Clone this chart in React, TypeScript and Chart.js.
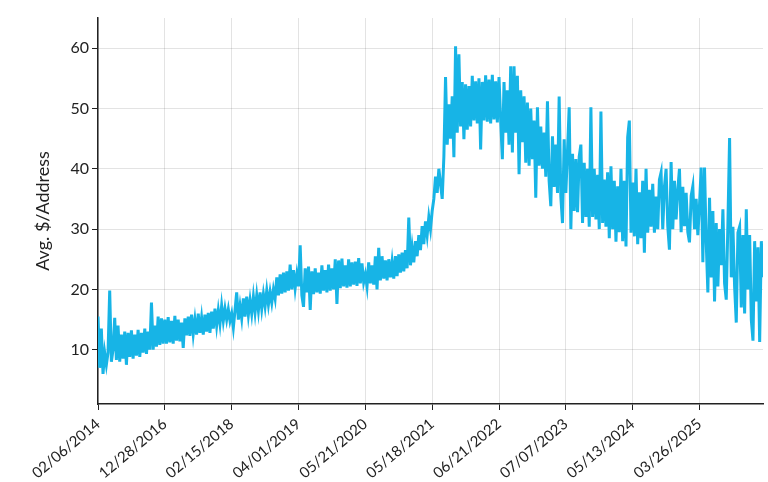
import React, { useEffect, useRef } from "react";
import { Chart, registerables } from "chart.js";
Chart.register(...registerables);

// Tick labels shown on the x axis (one every TICK_STEP observations)
const tickLabels = [
  "02/06/2014", "12/28/2016", "02/15/2018", "04/01/2019", "05/21/2020",
  "05/18/2021", "06/21/2022", "07/07/2023", "05/13/2024", "03/26/2025",
];
const TICK_STEP = 40;

// Avg. $/Address, in chronological blocks
const vals2014_2016 = [
  15.5, 7, 13.5, 6, 9.5, 7.5, 9.5, 19.8, 8, 10, 15.3, 8.3, 14, 8, 12.5, 8.5, 13, 7.5, 12.8, 8.8,
  13.2, 8.5, 12.5, 9, 13.3, 8.8, 12.8, 9.5, 13.5, 9.3, 13, 10, 17.8, 10, 14, 10.5, 15.5, 10.8, 15.2, 11,
];
const vals2016_2018 = [
  15, 11, 15.4, 11.2, 14.8, 11, 15.6, 11.5, 15, 11.4, 14.5, 10.3, 15.2, 12.4, 15.5, 12.3, 15.8, 12.6, 15, 12.5,
  16, 12.8, 15.3, 12.5, 15.8, 13, 16.1, 12.8, 16.3, 13.5, 16.8, 14, 16.5, 14.3, 17.3, 14.8, 16.8, 15, 16.7, 14.8,
];
const vals2018_2019 = [
  16, 13.7, 16.5, 19.5, 15, 17.3, 15.2, 18.5, 15.5, 18.8, 15.8, 18.2, 16, 18.8, 16.2, 19, 16.5, 19.5, 16.8, 19.2,
  17.2, 19.8, 17.5, 19.6, 17.8, 20, 18.5, 22, 19, 22.5, 19.3, 22.8, 19.5, 23, 19.8, 24.1, 20, 23.2, 20.2, 22.5,
];
const vals2019_2020 = [
  20.5, 27.3, 19, 17.1, 23.5, 19.5, 23.8, 16.6, 23, 19.2, 23.5, 19.5, 22.8, 19.3, 24, 19.8, 23.2, 19.5, 24.1, 19.8,
  23.5, 20, 25, 17.6, 24.8, 20.2, 25.1, 20.5, 24, 20.3, 25, 20.5, 24.5, 20.8, 24.6, 20.6, 25.2, 21, 24.3, 21.2,
];
const vals2020_2021 = [
  22.5, 20.5, 24.5, 21, 24, 20.8, 25.5, 20, 26.9, 21.5, 25.5, 21.8, 24.8, 21.5, 25, 22, 24.6, 21.8, 25.5, 22.2,
  25.8, 22.8, 26.1, 23, 26.5, 23.5, 31.9, 24, 27, 24.5, 28, 25.5, 29, 26.5, 30.5, 27.5, 31.3, 29, 32, 30,
];
const vals2021_2022 = [
  33, 35, 38.7, 36, 40, 37.5, 35, 42, 55.2, 44, 50.7, 45, 52, 41.9, 60.3, 46, 59, 47, 54.4, 44.9,
  54, 46.5, 53.7, 47, 55.4, 48, 54.5, 47.5, 55, 43.2, 54.4, 48, 55.5, 47.8, 54.8, 47.5, 55.6, 48.2, 54.5, 47.7,
];
const vals2022_2023 = [
  55.2, 48, 41.6, 54.4, 46, 53, 44, 57, 42.7, 57, 46, 55.4, 39.1, 53, 44.4, 52, 41, 51, 40.5, 50,
  41.6, 48, 35.2, 50.2, 40.5, 47, 40, 46, 38.7, 51.2, 38, 33.8, 45.4, 37, 44, 36, 52, 35.4, 31, 44.9,
];
const vals2023_2024 = [
  36, 43, 50.2, 30, 42.5, 33, 41.6, 32.8, 42, 44, 31, 41, 32, 40, 30.4, 50.2, 32, 40, 31.6, 39,
  30, 49.5, 31, 38.2, 30.4, 39.4, 28.5, 40.4, 30, 38, 27.9, 37.1, 29.5, 40, 28, 38, 27.1, 45.2, 48, 29.4,
];
const vals2024_2025 = [
  37.7, 28.8, 40, 27.5, 36.1, 28.5, 38, 26.1, 40, 29.4, 36.5, 30.4, 37.5, 29.4, 35.4, 30, 38.2, 39.4, 30, 37,
  40, 30.5, 26.6, 41.1, 30, 38, 31.6, 36.5, 40, 29.5, 37, 30.5, 36, 29.5, 27.8, 35.5, 37.1, 30, 35, 29,
];
const vals2025_end = [
  34, 40.2, 24.5, 40.2, 28, 19.5, 35.2, 22, 33, 18, 31, 20.5, 30, 24, 33.3, 21, 18.3, 31, 45.1, 22,
  30.4, 20.5, 14.5, 29.4, 30.4, 17, 29, 16, 33.3, 20, 29, 15, 11.5, 28, 18, 27, 11.3, 28, 22,
];

const values = [
  ...vals2014_2016, ...vals2016_2018, ...vals2018_2019, ...vals2019_2020, ...vals2020_2021,
  ...vals2021_2022, ...vals2022_2023, ...vals2023_2024, ...vals2024_2025, ...vals2025_end,
];

const yTickValues = [10, 20, 30, 40, 50, 60];
const Y_MIN = 1;
const Y_MAX = 65;

const FONT = "Lato, 'Open Sans', sans-serif";
const INK = "#222222";
const GRID = "rgba(0,0,0,0.11)";
const LINE = "#17b4e6";

export default function App() {
  const ref = useRef<HTMLCanvasElement>(null);

  useEffect(() => {
    if (!ref.current) return;
    const chart = new Chart(ref.current, {
      type: "line",
      data: {
        datasets: [
          {
            data: values.map((v, i) => ({ x: i, y: v })),
            borderColor: LINE,
            backgroundColor: LINE,
            borderWidth: 3,
            pointRadius: 0,
            tension: 0,
            fill: false,
          },
        ],
      },
      options: {
        animation: false,
        responsive: false,
        layout: { padding: { top: 18, right: 5, left: 32, bottom: 0 } },
        plugins: { legend: { display: false }, tooltip: { enabled: false } },
        scales: {
          x: {
            type: "linear",
            min: 0,
            max: values.length - 1,
            afterBuildTicks: (s: any) => {
              s.ticks = tickLabels.map((_, i) => ({ value: i * TICK_STEP }));
            },
            afterFit: (s: any) => {
              s.height = 78;
            },
            ticks: {
              callback: (_v: any, i: number) => tickLabels[i],
              minRotation: 40,
              maxRotation: 40,
              autoSkip: false,
              color: INK,
              font: { family: FONT, size: 15 },
              padding: 5,
            },
            grid: { color: GRID, tickColor: INK, tickLength: 6, lineWidth: 1 },
            border: { color: INK, width: 1.5 },
          },
          y: {
            min: Y_MIN,
            max: Y_MAX,
            afterBuildTicks: (s: any) => {
              s.ticks = yTickValues.map((v) => ({ value: v }));
            },
            afterFit: (s: any) => {
              s.width = 66;
            },
            ticks: {
              color: INK,
              font: { family: FONT, size: 16 },
              padding: 3,
            },
            grid: { color: GRID, tickColor: INK, tickLength: 6, lineWidth: 1 },
            border: { color: INK, width: 1.5 },
            title: {
              display: true,
              text: "Avg. $/Address",
              color: INK,
              font: { family: FONT, size: 18 },
              padding: { top: 0, bottom: 0 },
            },
          },
        },
      },
    });
    return () => chart.destroy();
  }, []);

  return (
    <div style={{ position: "absolute", left: 0, top: 0, width: 768, height: 482, background: "#fff" }}>
      <canvas ref={ref} width={768} height={482} />
    </div>
  );
}
